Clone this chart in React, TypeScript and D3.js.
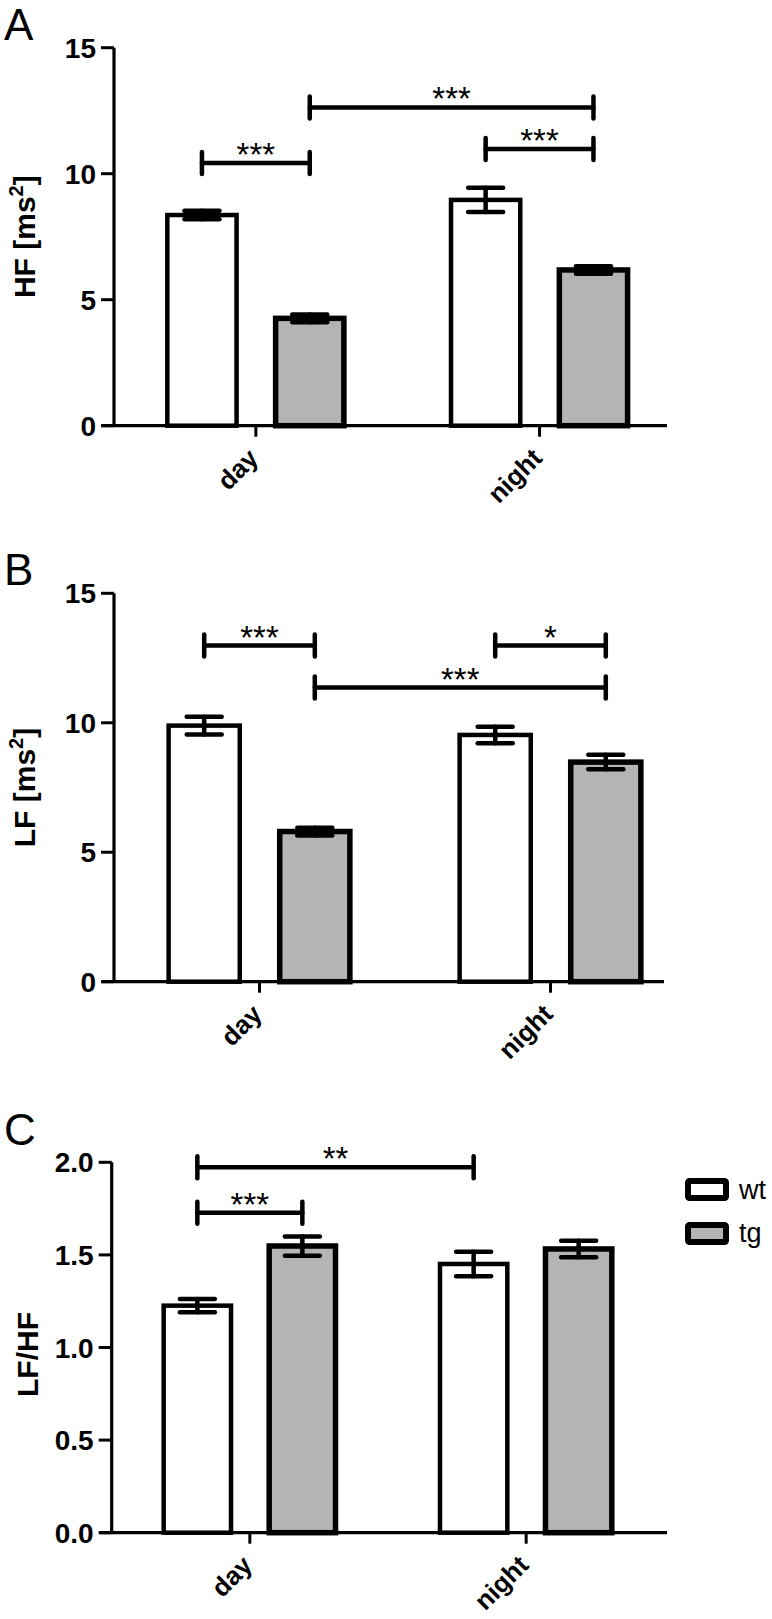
import React from "react";
import * as d3 from "d3";

const FONT = "'Liberation Sans', Arial, Helvetica, sans-serif";

const categories = ["day", "night"];
const seriesNames = ["wt", "tg"];

// Panel A: HF
const hfWt = [8.36, 8.96];
const hfWtErr = [0.17, 0.48];
const hfTg = [4.26, 6.18];
const hfTgErr = [0.15, 0.15];
const hfTicks = [0, 5, 10, 15];

// Panel B: LF
const lfWt = [9.89, 9.53];
const lfWtErr = [0.34, 0.32];
const lfTg = [5.8, 8.48];
const lfTgErr = [0.15, 0.28];
const lfTicks = [0, 5, 10, 15];

// Panel C: LF/HF
const ratioWt = [1.226, 1.451];
const ratioWtErr = [0.036, 0.066];
const ratioTg = [1.548, 1.532];
const ratioTgErr = [0.052, 0.045];
const ratioTicks = [0, 0.5, 1.0, 1.5, 2.0];

type Bracket = { from: [number, number]; to: [number, number]; y: number; label: string };

const hfBrackets: Bracket[] = [
  { from: [0, 0], to: [0, 1], y: 10.42, label: "***" },
  { from: [0, 1], to: [1, 1], y: 12.63, label: "***" },
  { from: [1, 0], to: [1, 1], y: 10.98, label: "***" },
];
const lfBrackets: Bracket[] = [
  { from: [0, 0], to: [0, 1], y: 12.98, label: "***" },
  { from: [0, 1], to: [1, 1], y: 11.36, label: "***" },
  { from: [1, 0], to: [1, 1], y: 12.98, label: "*" },
];
const ratioBrackets: Bracket[] = [
  { from: [0, 0], to: [1, 0], y: 1.973, label: "**" },
  { from: [0, 0], to: [0, 1], y: 1.728, label: "***" },
];

const GRAY = "#b4b4b4";

type PanelCfg = {
  letter: string;
  letterY: number;
  title: string;
  sup?: string;
  titleEnd?: string;
  titleX: number;
  titleShift: number;
  ticks: number[];
  fmt: (n: number) => string;
  yMax: number;
  wt: number[];
  wtErr: number[];
  tg: number[];
  tgErr: number[];
  brackets: Bracket[];
  axisX: number;
  yTop: number;
  yBase: number;
  step: number;
  axisEnd: number;
  legend?: boolean;
};

const panels: PanelCfg[] = [
  {
    letter: "A", letterY: 40, title: "HF [ms", sup: "2", titleEnd: "]", titleX: 35, titleShift: 0,
    ticks: hfTicks, fmt: d3.format("d"), yMax: 15,
    wt: hfWt, wtErr: hfWtErr, tg: hfTg, tgErr: hfTgErr, brackets: hfBrackets,
    axisX: 114, yTop: 47.7, yBase: 425.7, step: 283.7, axisEnd: 667,
  },
  {
    letter: "B", letterY: 585, title: "LF [ms", sup: "2", titleEnd: "]", titleX: 35, titleShift: 0,
    ticks: lfTicks, fmt: d3.format("d"), yMax: 15,
    wt: lfWt, wtErr: lfWtErr, tg: lfTg, tgErr: lfTgErr, brackets: lfBrackets,
    axisX: 114, yTop: 593.3, yBase: 981.7, step: 291, axisEnd: 664,
  },
  {
    letter: "C", letterY: 1145, title: "LF/HF", titleX: 38, titleShift: 7,
    ticks: ratioTicks, fmt: d3.format(".1f"), yMax: 2,
    wt: ratioWt, wtErr: ratioWtErr, tg: ratioTg, tgErr: ratioTgErr, brackets: ratioBrackets,
    axisX: 111.7, yTop: 1162.3, yBase: 1532.7, step: 276.3, axisEnd: 667, legend: true,
  },
];

function Panel({ cfg }: { cfg: PanelCfg }) {
  const x = d3.scaleBand<string>().domain(categories).range([cfg.axisX, cfg.axisX + 2 * cfg.step]).padding(0);
  const inner = d3
    .scaleBand<string>()
    .domain(seriesNames)
    .range([-0.32 * cfg.step, 0.32 * cfg.step])
    .paddingInner(0.316)
    .paddingOuter(0);
  const y = d3.scaleLinear().domain([0, cfg.yMax]).range([cfg.yBase, cfg.yTop]);
  const bw = inner.bandwidth();
  const catCenter = (ci: number) => (x(categories[ci]) as number) + x.bandwidth() / 2;
  const barCenter = (ci: number, si: number) => catCenter(ci) + (inner(seriesNames[si]) as number) + bw / 2;
  const tickLen = 13;
  const series = [
    { vals: cfg.wt, errs: cfg.wtErr, fill: "#ffffff", sw: 4.5 },
    { vals: cfg.tg, errs: cfg.tgErr, fill: GRAY, sw: 5.5 },
  ];
  const capW = 39;
  const midY = (cfg.yTop + cfg.yBase) / 2 + cfg.titleShift;

  return (
    <g>
      <text x={4} y={cfg.letterY} fontSize={44} fontFamily={FONT} fill="#000">
        {cfg.letter}
      </text>
      {/* bars */}
      {series.map((s, si) =>
        categories.map((c, ci) => {
          const cx = barCenter(ci, si);
          const top = y(s.vals[ci]);
          return (
            <rect
              key={`b${si}${ci}`}
              x={cx - bw / 2 + s.sw / 2}
              y={top}
              width={bw - s.sw}
              height={cfg.yBase - top}
              fill={s.fill}
              stroke="#000"
              strokeWidth={s.sw}
            />
          );
        })
      )}
      {/* error bars */}
      {series.map((s, si) =>
        categories.map((c, ci) => {
          const cx = barCenter(ci, si);
          const hi = y(s.vals[ci] + s.errs[ci]);
          const lo = y(s.vals[ci] - s.errs[ci]);
          return (
            <g key={`e${si}${ci}`} stroke="#000" strokeWidth={4.5} strokeLinecap="round">
              <line x1={cx} x2={cx} y1={hi} y2={lo} />
              <line x1={cx - capW / 2 + 2} x2={cx + capW / 2 - 2} y1={hi} y2={hi} />
              <line x1={cx - capW / 2 + 2} x2={cx + capW / 2 - 2} y1={lo} y2={lo} />
            </g>
          );
        })
      )}
      {/* axes */}
      <line x1={cfg.axisX} x2={cfg.axisX} y1={cfg.yTop} y2={cfg.yBase} stroke="#000" strokeWidth={3.2} />
      <line x1={cfg.axisX - 12} x2={cfg.axisEnd} y1={cfg.yBase} y2={cfg.yBase} stroke="#000" strokeWidth={3.2} />
      {cfg.ticks.map((t) => (
        <g key={`t${t}`}>
          <line x1={cfg.axisX - tickLen} x2={cfg.axisX} y1={y(t)} y2={y(t)} stroke="#000" strokeWidth={3} />
          <text
            x={cfg.axisX - tickLen - 5}
            y={y(t)}
            dy="0.36em"
            textAnchor="end"
            fontSize={28}
            fontWeight="bold"
            fontFamily={FONT}
            fill="#000"
          >
            {cfg.fmt(t)}
          </text>
        </g>
      ))}
      {categories.map((c, ci) => {
        const cx = catCenter(ci);
        return (
          <g key={`x${c}`}>
            <line x1={cx} x2={cx} y1={cfg.yBase} y2={cfg.yBase + 11} stroke="#000" strokeWidth={3} />
            <text
              transform={`translate(${cx + 4},${cfg.yBase + 34}) rotate(-45)`}
              textAnchor="end"
              fontSize={26}
              fontWeight="bold"
              fontFamily={FONT}
              fill="#000"
            >
              {c}
            </text>
          </g>
        );
      })}
      {/* y title */}
      <text
        transform={`translate(${cfg.titleX},${midY}) rotate(-90)`}
        textAnchor="middle"
        fontSize={30}
        fontWeight="bold"
        fontFamily={FONT}
        fill="#000"
      >
        {cfg.title}
        {cfg.sup ? (
          <tspan fontSize={20} dy={-12}>
            {cfg.sup}
          </tspan>
        ) : null}
        {cfg.titleEnd ? <tspan dy={12}>{cfg.titleEnd}</tspan> : null}
      </text>
      {/* significance brackets */}
      {cfg.brackets.map((b, i) => {
        const x1 = barCenter(b.from[0], b.from[1]);
        const x2 = barCenter(b.to[0], b.to[1]);
        const yy = y(b.y);
        return (
          <g key={`br${i}`}>
            <g stroke="#000" strokeWidth={4.5} strokeLinecap="round">
              <line x1={x1} x2={x2} y1={yy} y2={yy} />
              <line x1={x1} x2={x1} y1={yy - 11} y2={yy + 11} />
              <line x1={x2} x2={x2} y1={yy - 11} y2={yy + 11} />
            </g>
            <text
              x={(x1 + x2) / 2}
              y={yy + 3}
              textAnchor="middle"
              fontSize={33}
              fontFamily={FONT}
              fill="#000"
            >
              {b.label}
            </text>
          </g>
        );
      })}
      {cfg.legend
        ? seriesNames.map((s, si) => (
            <g key={`lg${s}`}>
              <rect
                x={688}
                y={1181 + si * 44}
                width={38}
                height={17}
                fill={series[si].fill}
                stroke="#000"
                strokeWidth={6}
                rx={1.5}
              />
              <text x={739} y={1198.5 + si * 43.5} fontSize={27} fontFamily={FONT} fill="#000">
                {s}
              </text>
            </g>
          ))
        : null}
    </g>
  );
}

export default function App() {
  return (
    <svg
      width={772}
      height={1619}
      viewBox="0 0 772 1619"
      style={{ position: "absolute", left: 0, top: 0, display: "block", background: "#fff" }}
    >
      <rect x={0} y={0} width={772} height={1619} fill="#fff" />
      {panels.map((p) => (
        <Panel key={p.letter} cfg={p} />
      ))}
    </svg>
  );
}
